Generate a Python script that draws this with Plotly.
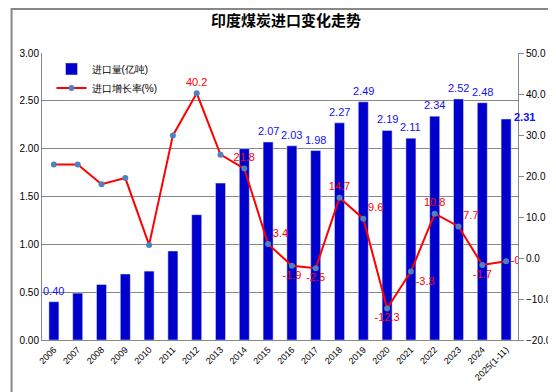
import plotly.graph_objects as go

years = ["2006", "2007", "2008", "2009", "2010", "2011", "2012", "2013", "2014", "2015",
         "2016", "2017", "2018", "2019", "2020", "2021", "2022", "2023", "2024", "2025(1-11)"]
imports = [0.40, 0.49, 0.58, 0.69, 0.72, 0.93, 1.31, 1.64, 2.00, 2.07,
           2.03, 1.98, 2.27, 2.49, 2.19, 2.11, 2.34, 2.52, 2.48, 2.31]
growth = [22.8, 22.8, 18.0, 19.5, 3.2, 29.9, 40.2, 25.2, 21.8, 3.4,
          -1.9, -2.5, 14.7, 9.6, -12.3, -3.3, 10.8, 7.7, -1.7, -0.8]
bar_labeled = [True, False, False, False, False, False, False, False, False, True,
               True, True, True, True, True, True, True, True, True, True]
line_labeled = [False, False, False, False, False, False, True, False, True, True,
                True, True, True, True, True, True, True, True, True, True]
line_pos = ["top center"] * 6 + ["top center", "top center", "top center", "top right",
            "bottom center", "bottom center", "top center", "top right", "bottom center", "bottom right",
            "top center", "top right", "bottom center", "middle right"]

font_main = "Liberation Sans, Arial, sans-serif"

fig = go.Figure()
fig.add_trace(go.Bar(
    x=years, y=imports, name="进口量(亿吨)", marker_color="#0000CC",
    yaxis="y", width=0.42,
))
fig.add_trace(go.Scatter(
    x=years, y=growth, name="进口增长率(%)", yaxis="y2", mode="lines+markers+text",
    line=dict(color="#FF0000", width=2), marker=dict(color="#4F81BD", size=6),
    text=[f"{v:.1f}" if f else "" for v, f in zip(growth, line_labeled)],
    textposition=line_pos, textfont=dict(color="#FF0000", size=11, family=font_main),
))

annotations = []
for i, (v, f) in enumerate(zip(imports, bar_labeled)):
    if not f:
        continue
    last = i == len(years) - 1
    annotations.append(dict(
        x=i, y=v, xref="x", yref="y", text=(f"<b>{v:.2f}</b>" if last else f"{v:.2f}"),
        showarrow=False, yanchor="bottom" if not last else "middle",
        xanchor="center" if not last else "left",
        xshift=0 if not last else 6, yshift=3 if not last else 2,
        font=dict(color="#1010F0", size=11, family=font_main),
    ))

fig.update_layout(
    width=556, height=392,
    margin=dict(l=32, r=39, t=45, b=60),
    paper_bgcolor="white", plot_bgcolor="white",
    title=dict(text="<b>印度煤炭进口变化走势</b>", x=0.5, xanchor="center", y=0.968, yanchor="middle",
               font=dict(family="Noto Sans CJK SC", size=15, color="#000")),
    font=dict(family=font_main, size=10, color="#000"),
    bargap=0.58,
    xaxis=dict(type="category", tickangle=-45, showline=True, linecolor="#888", linewidth=1,
               ticks="", tickfont=dict(size=9), showgrid=False, range=[-0.5, len(years) - 0.5]),
    yaxis=dict(range=[0, 3], dtick=0.5, tickformat=".2f", showgrid=True, gridcolor="#888",
               gridwidth=1, showline=True, linecolor="#888", zeroline=False, ticks="",
               tickfont=dict(size=10)),
    yaxis2=dict(range=[-20, 50], dtick=10, tickformat=".1f", overlaying="y", side="right",
                showgrid=False, showline=True, linecolor="#888", zeroline=False,
                ticks="outside", ticklen=5, tickcolor="#888", tickfont=dict(size=10)),
    legend=dict(x=0.02, y=0.995, xanchor="left", yanchor="top", bgcolor="rgba(0,0,0,0)",
                font=dict(size=10), tracegroupgap=4, itemwidth=30),
    annotations=annotations,
    showlegend=True,
)

# outer gray frame
W, H, L, R, T, B = 556, 392, 32, 39, 45, 60
pw, ph = W - L - R, H - T - B
fig.add_shape(type="rect", xref="paper", yref="paper",
              x0=(1 - L) / pw, x1=(W - 2 - L) / pw,
              y0=-(B - 1) / ph, y1=1 + (T - 1) / ph,
              line=dict(color="#888", width=2), fillcolor="rgba(0,0,0,0)", layer="below")

fig.write_html("out.html")
